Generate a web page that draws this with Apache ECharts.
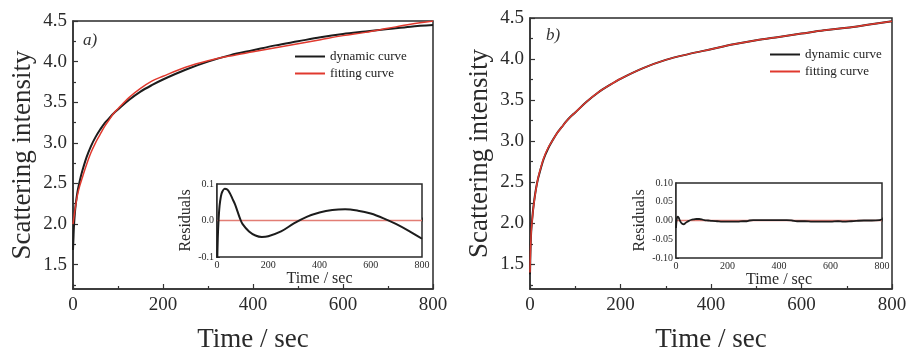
<!DOCTYPE html>
<html>
<head>
<meta charset="utf-8">
<script src="https://cdn.jsdelivr.net/npm/echarts@6/dist/echarts.min.js"></script>
<style>html,body{margin:0;padding:0;background:#fff}#c{width:909px;height:351px}</style>
</head>
<body>
<div id="c"></div>
<script>
// ---- data (time in sec) ----
const leftDynamic = [[0,1.68],[1,1.82],[2,1.96],[4,2.12],[6,2.24],[10,2.40],[15,2.53],[20,2.64],[30,2.82],[40,2.96],[50,3.07],[60,3.16],[70,3.24],[80,3.30],[90,3.36],[100,3.41],[125,3.53],[150,3.63],[175,3.71],[200,3.78],[250,3.90],[300,4.00],[350,4.08],[400,4.14],[450,4.20],[500,4.25],[550,4.30],[600,4.34],[650,4.37],[700,4.40],[750,4.43],[800,4.45]];
const leftFit = [[0,2.00],[2,2.08],[4,2.16],[6,2.23],[10,2.36],[15,2.47],[20,2.56],[30,2.73],[40,2.88],[50,3.00],[60,3.10],[70,3.20],[80,3.28],[90,3.36],[100,3.42],[125,3.56],[150,3.67],[175,3.76],[200,3.82],[250,3.93],[300,4.01],[350,4.07],[400,4.12],[450,4.17],[500,4.22],[550,4.27],[600,4.32],[650,4.36],[700,4.41],[750,4.46],[800,4.50]];
const leftResidual = [[0,-0.14],[3,-0.05],[6,0.0],[10,0.04],[15,0.065],[20,0.078],[30,0.087],[40,0.085],[50,0.075],[60,0.06],[70,0.045],[80,0.025],[90,0.005],[100,-0.01],[125,-0.03],[150,-0.041],[175,-0.045],[200,-0.043],[250,-0.03],[300,-0.008],[350,0.01],[400,0.022],[450,0.029],[500,0.031],[550,0.027],[600,0.019],[650,0.006],[700,-0.01],[750,-0.029],[800,-0.05]];
const rightDynamic = [[0,1.38],[1,1.65],[2,1.82],[3,1.93],[5,2.06],[8,2.22],[12,2.38],[16,2.50],[20,2.59],[30,2.78],[40,2.91],[50,3.01],[60,3.10],[70,3.17],[80,3.24],[90,3.30],[100,3.35],[125,3.48],[150,3.59],[175,3.68],[200,3.76],[250,3.89],[300,3.99],[350,4.06],[400,4.12],[450,4.18],[500,4.23],[550,4.27],[600,4.31],[650,4.35],[700,4.38],[750,4.42],[800,4.46]];
const rightFit = [[0,1.40],[1,1.64],[2,1.81],[3,1.92],[5,2.05],[8,2.21],[12,2.37],[16,2.50],[20,2.60],[30,2.79],[40,2.92],[50,3.01],[60,3.10],[70,3.17],[80,3.24],[90,3.30],[100,3.35],[125,3.48],[150,3.59],[175,3.68],[200,3.76],[250,3.89],[300,3.99],[350,4.06],[400,4.12],[450,4.18],[500,4.23],[550,4.27],[600,4.31],[650,4.35],[700,4.38],[750,4.42],[800,4.46]];
const rightResidual = [[0,-0.02],[3,0.004],[6,0.01],[10,0.008],[15,0.0],[20,-0.006],[25,-0.009],[30,-0.01],[35,-0.008],[40,-0.005],[50,-0.001],[60,0.002],[70,0.003],[80,0.004],[90,0.004],[100,0.003],[110,0.001],[125,0.0],[140,-0.001],[160,-0.002],[180,-0.003],[200,-0.003],[220,-0.003],[240,-0.003],[260,-0.002],[275,-0.002],[285,0.0],[300,0.001],[330,0.001],[360,0.001],[400,0.001],[430,0.001],[450,0.0],[470,-0.002],[500,-0.002],[530,-0.003],[560,-0.003],[600,-0.003],[630,-0.002],[650,-0.003],[680,-0.002],[700,-0.001],[730,0.0],[760,0.0],[790,0.001],[800,0.003]];
const zeroLine = [[0,0],[800,0]];
const mainYTicks = [1.5,2.0,2.5,3.0,3.5,4.0,4.5];
const mainYMinorTicks = [1.25,1.75,2.25,2.75,3.25,3.75,4.25];
const legendNames = ['dynamic curve','fitting curve'];
const panelLabels = ['a)','b)'];

const FONT = 'Liberation Serif';
const INK = '#2a2a2a';
const BLACK = '#1c1c1c';
const RED = '#e0392e';
const ZERO_RED = '#e27d74';

function mainX(grid) {
  return {
    gridIndex: grid, type: 'value', min: 0, max: 800, interval: 200,
    name: 'Time / sec', nameLocation: 'middle', nameGap: 37,
    nameTextStyle: { fontFamily: FONT, fontSize: 27, color: INK },
    axisLine: { show: true, lineStyle: { color: '#333', width: 1.5 } },
    axisTick: { show: true, inside: true, length: 5, lineStyle: { color: '#333', width: 1.2 } },
    minorTick: { show: true, splitNumber: 2, length: 3, lineStyle: { color: '#333', width: 1.2 } },
    axisLabel: { fontFamily: FONT, fontSize: 19, color: INK, margin: 7 },
    splitLine: { show: false }
  };
}
function mainY(grid) {
  return {
    gridIndex: grid, type: 'value', min: 1.2, max: 4.5,
    name: 'Scattering intensity', nameLocation: 'middle', nameGap: 37,
    nameTextStyle: { fontFamily: FONT, fontSize: 27, color: INK },
    axisLine: { show: true, lineStyle: { color: '#333', width: 1.5 } },
    axisTick: { show: true, inside: true, length: 5, customValues: mainYTicks, lineStyle: { color: '#333', width: 1.2 } },
    axisLabel: { fontFamily: FONT, fontSize: 19, color: INK, margin: 6, customValues: mainYTicks, formatter: v => v.toFixed(1) },
    splitLine: { show: false }
  };
}
function minorY(grid) {
  return {
    gridIndex: grid, type: 'value', min: 1.2, max: 4.5, position: 'left',
    axisLine: { show: false },
    axisTick: { show: true, inside: true, length: 3, customValues: mainYMinorTicks, lineStyle: { color: '#333', width: 1.2 } },
    axisLabel: { show: false },
    splitLine: { show: false }
  };
}
function insetX(grid) {
  return {
    gridIndex: grid, type: 'value', min: 0, max: 800, interval: 200,
    name: 'Time / sec', nameLocation: 'middle', nameGap: 13,
    nameTextStyle: { fontFamily: FONT, fontSize: 16, color: INK },
    axisLine: { show: true, lineStyle: { color: '#222', width: 1.5 } },
    axisTick: { show: true, inside: true, length: 3, lineStyle: { color: '#333' } },
    minorTick: { show: true, splitNumber: 2, length: 2, lineStyle: { color: '#333' } },
    axisLabel: { fontFamily: FONT, fontSize: 10, color: INK, margin: 3 },
    splitLine: { show: false }
  };
}
function insetY(grid, step, digits, gap) {
  return {
    gridIndex: grid, type: 'value', min: -0.1, max: 0.1, interval: step,
    name: 'Residuals', nameLocation: 'middle', nameGap: gap,
    nameTextStyle: { fontFamily: FONT, fontSize: 16, color: INK },
    axisLine: { show: true, lineStyle: { color: '#222', width: 1.5 } },
    axisTick: { show: true, inside: true, length: 3, lineStyle: { color: '#333' } },
    axisLabel: { fontFamily: FONT, fontSize: 10, color: INK, margin: 3, formatter: v => v.toFixed(digits) },
    splitLine: { show: false }
  };
}
function line(name, data, xi, yi, color, width, z) {
  return { name, type: 'line', data, xAxisIndex: xi, yAxisIndex: yi, showSymbol: false, symbol: 'none',
    smooth: 0.35, lineStyle: { color, width }, itemStyle: { color }, z: z || 2, animation: false };
}
function legend(left, top) {
  return { data: legendNames, orient: 'vertical', left, top, icon: 'rect', itemWidth: 30, itemHeight: 2, itemGap: 2,
    textStyle: { fontFamily: FONT, fontSize: 13, color: '#222', lineHeight: 15 }, selectedMode: false, padding: 0 };
}
function grid(left, top, width, height, bg, z) {
  return { left, top, width, height, show: true, borderColor: '#2a2a2a', borderWidth: 1.5,
    backgroundColor: bg, z: z || 0, containLabel: false, outerBoundsMode: 'none' };
}

const chart = echarts.init(document.getElementById('c'), null, { renderer: 'canvas' });
chart.setOption({
  backgroundColor: '#fff',
  animation: false,
  grid: [
    grid(73, 21, 360, 268, 'transparent'),
    grid(217, 184, 205, 73, '#fff', 3),
    grid(530, 18, 362, 271, 'transparent'),
    grid(676, 183, 206, 75, '#fff', 3)
  ],
  xAxis: [mainX(0), insetX(1), mainX(2), insetX(3)],
  yAxis: [mainY(0), minorY(0), insetY(1, 0.1, 1, 17), mainY(2), minorY(2), insetY(3, 0.05, 2, 24)],
  legend: [legend(295, 49), legend(770, 47)],
  graphic: [
    { type: 'text', left: 83, top: 32, style: { text: panelLabels[0], font: 'italic 17px "Liberation Serif"', fill: '#333' } },
    { type: 'text', left: 546, top: 27, style: { text: panelLabels[1], font: 'italic 17px "Liberation Serif"', fill: '#333' } }
  ],
  series: [
    line('dynamic curve', leftDynamic, 0, 0, BLACK, 2),
    line('fitting curve', leftFit, 0, 0, RED, 1.5),
    line('zero', zeroLine, 1, 2, ZERO_RED, 1.5, 4),
    line('residual', leftResidual, 1, 2, BLACK, 2, 5),
    line('dynamic curve', rightDynamic, 2, 3, BLACK, 2),
    line('fitting curve', rightFit, 2, 3, RED, 1.5),
    line('zero', zeroLine, 3, 5, ZERO_RED, 1.5, 4),
    line('residual', rightResidual, 3, 5, BLACK, 1.8, 5)
  ]
});
</script>
</body>
</html>
